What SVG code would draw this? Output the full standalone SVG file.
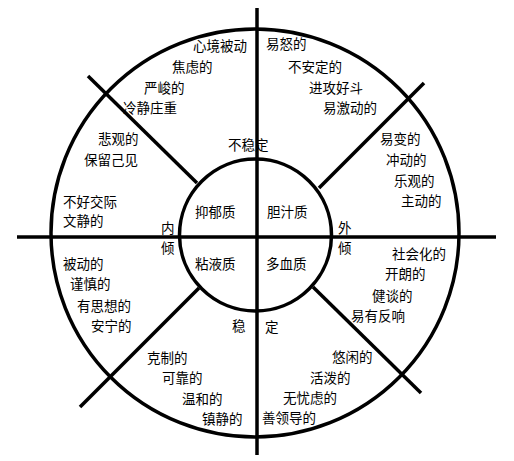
<svg xmlns="http://www.w3.org/2000/svg" width="514" height="461" viewBox="0 0 514 461">
<style>
.ln{stroke:#000;stroke-width:3.5;fill:none;stroke-linecap:butt}
.c{stroke:#000;stroke-width:3.5;fill:none}
text{font-family:"Noto Sans CJK SC","Noto Sans",sans-serif;font-size:13.5px;fill:#000;dominant-baseline:central}
</style>
<rect width="514" height="461" fill="#fff"/>
<g id="connectors">
<circle class="c" cx="255" cy="233" r="204"/>
<circle class="c" cx="255.5" cy="235" r="76"/>
<line class="ln" x1="257" y1="8" x2="257" y2="455"/>
<line class="ln" x1="17" y1="237" x2="496" y2="237"/>
<line class="ln" x1="88" y1="76" x2="197" y2="183"/>
<line class="ln" x1="424" y1="83" x2="319" y2="188"/>
<line class="ln" x1="80" y1="407" x2="199" y2="288"/>
<line class="ln" x1="313" y1="287" x2="421" y2="393"/>
</g>
<g id="melancholic">
<text x="195" y="211">抑郁质</text>
<text x="193" y="45">心境被动</text>
<text x="172" y="66">焦虑的</text>
<text x="144" y="87">严峻的</text>
<text x="123" y="107">冷静庄重</text>
<text x="98" y="138">悲观的</text>
<text x="84" y="159">保留己见</text>
<text x="63" y="201">不好交际</text>
<text x="63" y="220">文静的</text>
</g>
<g id="choleric">
<text x="267" y="211">胆汁质</text>
<text x="266" y="43">易怒的</text>
<text x="288" y="66">不安定的</text>
<text x="309" y="87">进攻好斗</text>
<text x="323" y="107">易激动的</text>
<text x="380" y="138">易变的</text>
<text x="386" y="159">冲动的</text>
<text x="394" y="180">乐观的</text>
<text x="401" y="200">主动的</text>
</g>
<g id="phlegmatic">
<text x="195" y="263">粘液质</text>
<text x="63" y="263">被动的</text>
<text x="70" y="283">谨慎的</text>
<text x="77" y="305">有思想的</text>
<text x="91" y="325">安宁的</text>
<text x="147" y="357">克制的</text>
<text x="162" y="377">可靠的</text>
<text x="182" y="398">温和的</text>
<text x="202" y="418">镇静的</text>
</g>
<g id="sanguine">
<text x="266" y="263">多血质</text>
<text x="392" y="253">社会化的</text>
<text x="385" y="273">开朗的</text>
<text x="372" y="295">健谈的</text>
<text x="351" y="315">易有反响</text>
<text x="332" y="356">悠闲的</text>
<text x="310" y="377">活泼的</text>
<text x="283" y="397">无忧虑的</text>
<text x="262" y="417">善领导的</text>
</g>
<g id="axes">
<text x="228" y="144">不稳定</text>
<text x="161" y="227">内</text>
<text x="161" y="247">倾</text>
<text x="338" y="227">外</text>
<text x="338" y="247">倾</text>
<text x="232" y="325">稳</text>
<text x="265" y="326">定</text>
</g>
</svg>
